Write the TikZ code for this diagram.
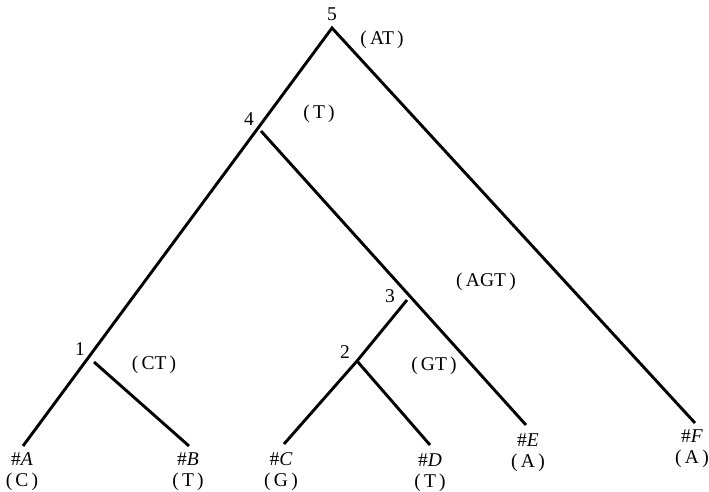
\documentclass[tikz,border=0pt]{standalone}
\usepackage{fontspec}
\setmainfont{Liberation Serif}
\usepackage{tikz}
\usetikzlibrary{positioning}
\newcommand{\est}[1]{(\,#1\,)}

\begin{document}
\begin{tikzpicture}[x=1pt, y=-1pt,
  font=\fontsize{19.5}{21}\selectfont,
  rama/.style={line width=2.9pt, line cap=butt},
  num/.style={inner sep=0pt},
  estado/.style={inner sep=0pt},
  hoja/.style={align=center, inner sep=0pt}]
\useasboundingbox (0,0) rectangle (709,492);
% vertices and tips
\coordinate (n5) at (332,28);
\coordinate (n4) at (261,131);
\coordinate (n3) at (407,300);
\coordinate (n2) at (357,361);
\coordinate (n1) at (94,362);
\coordinate (tA) at (23,446);
\coordinate (tB) at (189,446);
\coordinate (tC) at (284,444);
\coordinate (tD) at (430,445);
\coordinate (tE) at (526,425);
\coordinate (tF) at (695,423);
% branches
\draw[rama] (tA) -- (n5) -- (tF);
\draw[rama] (n4) -- (tE);
\draw[rama] (n3) -- (n2) -- (tC);
\draw[rama] (n2) -- (tD);
\draw[rama] (n1) -- (tB);
% vertex numbers and states
\node[num] (l5) at (332,14) {5};
\node[num] (l4) at (249,119) {4};
\node[num] (l3) at (390,296) {3};
\node[num] (l2) at (345,352) {2};
\node[num] (l1) at (80,349) {1};
\node[estado] (s5) at (382,40) {\est{AT}};
\node[estado] (s4) at (319,114) {\est{T}};
\node[estado] (s3) at (486,282) {\est{AGT}};
\node[estado] (s2) at (434,366) {\est{GT}};
\node[estado] (s1) at (154,365) {\est{CT}};
% leaves
\node[hoja] (A) at (22,472) {\#\textit{A}\\\est{C}};
\node[hoja] (B) at (188,472) {\#\textit{B}\\\est{T}};
\node[hoja] (C) at (281,472) {\#\textit{C}\\\est{G}};
\node[hoja] (D) at (430,473) {\#\textit{D}\\\est{T}};
\node[hoja] (E) at (528,453) {\#\textit{E}\\\est{A}};
\node[hoja] (F) at (692,449) {\#\textit{F}\\\est{A}};
\end{tikzpicture}
\end{document}
